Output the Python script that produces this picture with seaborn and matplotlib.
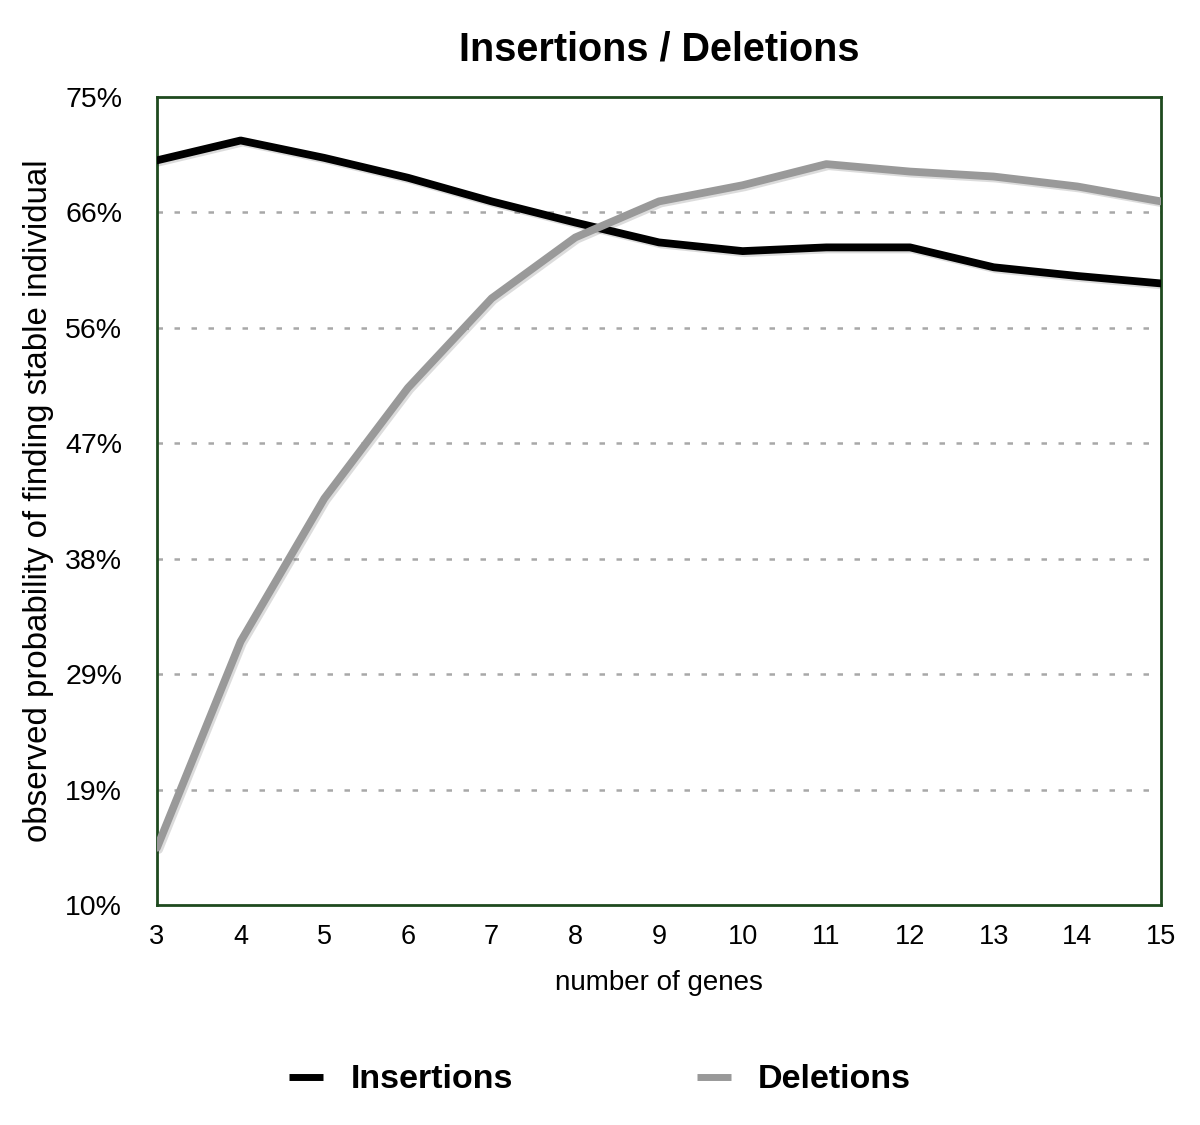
import matplotlib
matplotlib.use("Agg")
import matplotlib.pyplot as plt
import matplotlib.patheffects as pe
from matplotlib.lines import Line2D
import seaborn as sns
import pandas as pd

genes = [3, 4, 5, 6, 7, 8, 9, 10, 11, 12, 13, 14, 15]
insertions = [69.9, 71.5, 70.1, 68.5, 66.6, 64.9, 63.3, 62.6, 62.9, 62.9, 61.3, 60.6, 60.0]
deletions = [14.6, 31.2, 42.7, 51.6, 58.8, 63.7, 66.6, 67.9, 69.6, 69.0, 68.6, 67.8, 66.6]
ytick_vals = [10 + 65 / 7 * k for k in range(8)]
ytick_labels = ["10%", "19%", "29%", "38%", "47%", "56%", "66%", "75%"]

sns.set_theme(style="white")
plt.rcParams['font.family'] = ['Liberation Sans', 'DejaVu Sans']
plt.rcParams['text.color'] = 'black'
plt.rcParams['axes.labelcolor'] = 'black'

df = pd.DataFrame({
    "genes": genes * 2,
    "value": insertions + deletions,
    "series": ["Insertions"] * len(genes) + ["Deletions"] * len(genes),
})

fig = plt.figure(figsize=(12, 11.25), dpi=100)
ax = fig.add_axes([0.1308, 0.1956, 0.8367, 0.7182])

for y in ytick_vals[1:-1]:
    ax.axhline(y, color="#a8a8a8", lw=1.8, ls=(0, (2.2, 4.6)), zorder=1)

sns.lineplot(data=df, x="genes", y="value", hue="series",
             palette={"Insertions": "#000000", "Deletions": "#999999"},
             linewidth=5.6, ax=ax, legend=False, zorder=3,
             path_effects=[pe.SimpleLineShadow(offset=(1.5, -1.5), alpha=0.15), pe.Normal()])

ax.set_xlim(3, 15)
ax.set_ylim(10, 75)
ax.set_xticks(genes)
ax.set_xticklabels([str(g) for g in genes], fontsize=19.5)
ax.set_yticks(ytick_vals)
ax.set_yticklabels(ytick_labels, fontsize=20.5)
ax.tick_params(axis="x", length=0, pad=14, colors="#000000")
ax.tick_params(axis="y", length=0, pad=25, colors="#000000")
for s in ax.spines.values():
    s.set_color("#1e4a1e")
    s.set_linewidth(2)
    s.set_visible(True)

ax.set_xlabel("number of genes", fontsize=20, labelpad=14)
ax.set_ylabel("observed probability of finding stable individual", fontsize=23.8, labelpad=8)
ax.set_title("Insertions / Deletions", fontsize=28.5, fontweight="bold", pad=26, color="black")

handles = [Line2D([], [], color="#000000", lw=5, solid_capstyle="butt"),
           Line2D([], [], color="#999999", lw=5, solid_capstyle="butt")]
fig.legend(handles, ["Insertions", "Deletions"], loc="center", bbox_to_anchor=(0.5, 0.040),
           ncol=2, frameon=False, prop={"weight": "bold", "size": 24.5},
           handlelength=1.0, columnspacing=5.4, handletextpad=0.8)

fig.savefig("out.png", dpi=100)
